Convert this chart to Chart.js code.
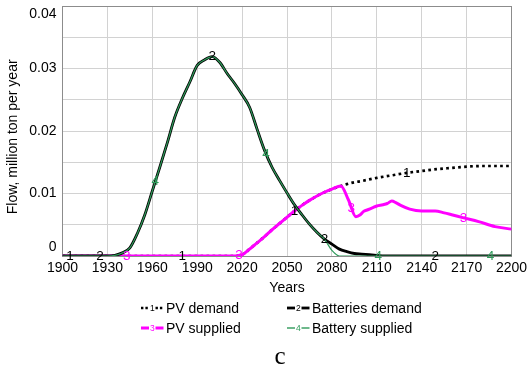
<!DOCTYPE html>
<html>
<head>
<meta charset="utf-8">
<script src="https://cdn.jsdelivr.net/npm/chart.js@4.4.1/dist/chart.umd.min.js"></script>
<style>
html,body{margin:0;padding:0;background:#fff;}
#wrap{position:relative;width:530px;height:370px;overflow:hidden;background:#fff;}
#c{position:absolute;left:0;top:0;}
.leg{position:absolute;height:18px;display:flex;align-items:center;font:14px "Liberation Sans",Arial,sans-serif;color:#000;white-space:nowrap;}
.leg svg{margin-right:2px;display:block;}
#cap{position:absolute;left:230px;width:100px;top:341px;text-align:center;font:25px "Liberation Serif","Times New Roman",serif;color:#000;line-height:30px;}
</style>
</head>
<body>
<div id="wrap">
<canvas id="c" width="530" height="370"></canvas>
<div id="cap">c</div>
</div>
<script>
// ---- data ----
const seriesNames = ['PV demand', 'Batteries demand', 'PV supplied', 'Battery supplied'];
const xTickLabels = ['1900','1930','1960','1990','2020','2050','2080','2110','2140','2170','2200'];
const yTickLabels = ['0','0.01','0.02','0.03','0.04'];

const years = [1900,1905,1910,1915,1920,1925,1930,1935,1940,1945,1950,1955,1960,1965,1970,1975,1980,1985,1990,1995,
               2000,2005,2010,2015,2020,2025,2030,2035,2040,2045,2050,2055,2060,2065,2070,2075,2080,2085,2090,2095,
               2100,2105,2110,2115,2120,2125,2130,2135,2140,2145,2150,2155,2160,2165,2170,2175,2180,2185,2190,2195,2200];
const batteriesDemand = [0,0,0,0,0,0,0,0.0001,0.0005,0.0013,0.0036,0.0066,0.0104,0.0142,0.0181,0.0222,0.0252,0.0278,0.0305,0.0314,
               0.0319,0.0310,0.0292,0.0276,0.0258,0.0238,0.0203,0.0169,0.0142,0.0121,0.0101,0.0082,0.0066,0.0051,0.0038,0.0027,0.0019,0.0011,0.0007,0.0004,
               0.0003,0.0002,0.0001,0,0,0,0,0,0,0,0,0,0,0,0,0,0,0,0,0,0];
const batterySupplied = [0,0,0,0,0,0,0,0.0001,0.0005,0.0013,0.0036,0.0066,0.0104,0.0142,0.0181,0.0222,0.0252,0.0278,0.0305,0.0314,
               0.0319,0.0310,0.0292,0.0276,0.0258,0.0238,0.0203,0.0169,0.0142,0.0121,0.0101,0.0082,0.0066,0.0051,0.0038,0.0027,0.0009,0,0,0,
               0,0,0,0,0,0,0,0,0,0,0,0,0,0,0,0,0,0,0,0,0];

const pvDemandYears = [1900,2015,2020,2025,2030,2035,2040,2045,2050,2055,2060,2065,2070,2075,2080,2086,2090,2095,2100,2110,2120,2130,2140,2150,2160,2170,2180,2190,2200];
const pvDemand = [0,0,0.0002,0.0011,0.0021,0.0031,0.0042,0.0052,0.0062,0.0072,0.0081,0.0089,0.0096,0.0102,0.0107,0.0112,0.0115,0.0118,0.0120,0.0125,0.0129,0.0133,0.0136,0.0139,0.0141,0.0143,0.0144,0.0144,0.0144];

const pvSuppliedYears = [1900,2015,2020,2025,2030,2035,2040,2045,2050,2055,2060,2065,2070,2075,2080,2086,2091,2096,2099,2101,2104,2107,2110,2114,2117,2120,2123,2126,2132,2140,2149,2155,2160,2168,2178,2189,2200];
const pvSupplied = [0,0,0.0002,0.0011,0.0021,0.0031,0.0042,0.0052,0.0062,0.0072,0.0081,0.0089,0.0096,0.0102,0.0107,0.0112,0.0090,0.0063,0.0066,0.0071,0.0074,0.0077,0.0080,0.0082,0.0084,0.0088,0.0085,0.0081,0.0075,0.0072,0.0072,0.0069,0.0066,0.0061,0.0055,0.0047,0.0043];

// years at which each curve carries its number marker
const pvDemandMarkYears = [1905,1980,2055,2130];
const batteriesDemandMarkYears = [1925,2000,2075,2149];
const pvSuppliedMarkYears = [1943,2018,2093,2168];
const batterySuppliedMarkYears = [1962,2036,2111,2186];

// ---- build ----
const pts = (xs, ys) => xs.map((x, i) => ({x: x, y: ys[i]}));
const FONT = '"Liberation Sans", Arial, sans-serif';
const colors = ['#000000', '#000000', '#ff00ff', '#2e9a5a'];

const datasets = [
  {label: seriesNames[0], data: pts(pvDemandYears, pvDemand), borderColor: colors[0], borderWidth: 2.7, borderDash: [2.7, 3.3],
   cubicInterpolationMode: 'monotone', order: 3, markText: '1', markYears: pvDemandMarkYears},
  {label: seriesNames[1], data: pts(years, batteriesDemand), borderColor: colors[1], borderWidth: 2.8,
   cubicInterpolationMode: 'monotone', order: 1, markText: '2', markYears: batteriesDemandMarkYears},
  {label: seriesNames[2], data: pts(pvSuppliedYears, pvSupplied), borderColor: colors[2], borderWidth: 3,
   cubicInterpolationMode: 'monotone', order: 2, markText: '3', markYears: pvSuppliedMarkYears},
  {label: seriesNames[3], data: pts(years, batterySupplied), borderColor: colors[3], borderWidth: 1.2,
   cubicInterpolationMode: 'monotone', order: 0, markText: '4', markYears: batterySuppliedMarkYears}
];
datasets.forEach(d => { d.pointRadius = 0; d.fill = false; d.backgroundColor = d.borderColor; });

const frame = {
  id: 'frame',
  beforeDatasetsDraw(chart) {
    const a = chart.chartArea, ctx = chart.ctx;
    ctx.save();
    ctx.strokeStyle = '#8c8c8c';
    ctx.lineWidth = 1;
    const l = Math.round(a.left - 0.5) + 0.5, r = Math.round(a.right - 0.5) + 0.5;
    const t = Math.round(a.top - 0.5) + 0.5, b = Math.round(a.bottom - 0.5) + 0.5;
    ctx.strokeRect(l, t, r - l, b - t);
    ctx.restore();
  }
};

const marks = {
  id: 'marks',
  afterDatasetsDraw(chart) {
    const ctx = chart.ctx, xs = chart.scales.x;
    ctx.save();
    ctx.font = '13.5px ' + FONT;
    ctx.textAlign = 'center';
    ctx.textBaseline = 'middle';
    chart.data.datasets.forEach((ds, i) => {
      const meta = chart.getDatasetMeta(i);
      ctx.fillStyle = ds.borderColor;
      ds.markYears.forEach(yr => {
        let p = meta.dataset.interpolate({x: xs.getPixelForValue(yr)}, 'x');
        if (Array.isArray(p)) p = p[0];
        if (p) ctx.fillText(ds.markText, p.x, p.y);
      });
    });
    ctx.restore();
  }
};

const chart = new Chart(document.getElementById('c'), {
  type: 'line',
  data: {datasets: datasets},
  options: {
    responsive: false,
    animation: false,
    devicePixelRatio: 1,
    layout: {autoPadding: false, padding: {left: 0, right: 18.5, top: 6, bottom: 73}},
    plugins: {legend: {display: false}, tooltip: {enabled: false}},
    scales: {
      x: {
        type: 'linear', min: 1900, max: 2200,
        ticks: {stepSize: 30, padding: 4, color: '#000', font: {family: FONT, size: 14}, maxRotation: 0, autoSkip: false,
                callback: (v) => { const s = String(Math.round(v)); return xTickLabels.includes(s) ? s : ''; }},
        grid: {color: '#d2d2d2', lineWidth: 1, drawTicks: false},
        border: {display: false},
        title: {display: true, text: 'Years', color: '#000', font: {family: FONT, size: 14}, padding: {top: 0, bottom: 0}},
        afterFit: (s) => { s.height = 41; s.paddingLeft = 0; s.paddingRight = 0; }
      },
      y: {
        type: 'linear', min: 0, max: 0.04,
        ticks: {stepSize: 0.005, padding: 6, color: '#000', font: {family: FONT, size: 14}, autoSkip: false,
                callback: (v) => {
                  const k = Math.round(v * 1000);
                  if (k % 10 !== 0) return '';
                  const s = yTickLabels[k / 10];
                  if (k === 0) return [s, ''];
                  if (k === 40) return ['', s];
                  return s;
                }},
        grid: {color: '#d2d2d2', lineWidth: 1, drawTicks: false},
        border: {display: false},
        title: {display: true, text: 'Flow, million ton per year\u00a0\u00a0\u00a0', color: '#000', font: {family: FONT, size: 14}, padding: {top: 5, bottom: 0}},
        afterFit: (s) => { s.width = 62.5; s.paddingTop = 0; s.paddingBottom = 0; }
      }
    }
  },
  plugins: [frame, marks]
});

// ---- legend (HTML, built from the chart's datasets) ----
const legendSlots = [[141, 299], [287, 299], [141, 319], [287, 319]];
const wrap = document.getElementById('wrap');
chart.data.datasets.forEach((ds, i) => {
  const div = document.createElement('div');
  div.className = 'leg';
  div.style.left = legendSlots[i][0] + 'px';
  div.style.top = legendSlots[i][1] + 'px';
  const dash = ds.borderDash ? 'stroke-dasharray="2.4,2"' : '';
  const w = ds.borderDash ? 2.4 : Math.max(ds.borderWidth, 1.4);
  div.innerHTML =
    '<svg width="23" height="14" viewBox="0 0 23 14">' +
    '<line x1="0" y1="7" x2="8" y2="7" stroke="' + ds.borderColor + '" stroke-width="' + w + '" ' + dash + '/>' +
    '<line x1="14.5" y1="7" x2="22.5" y2="7" stroke="' + ds.borderColor + '" stroke-width="' + w + '" ' + dash + '/>' +
    '<text x="11.3" y="10" text-anchor="middle" font-family="Liberation Sans, Arial, sans-serif" font-size="8.5" fill="' + ds.borderColor + '">' + ds.markText + '</text>' +
    '</svg><span>' + ds.label + '</span>';
  wrap.appendChild(div);
});
</script>
</body>
</html>
